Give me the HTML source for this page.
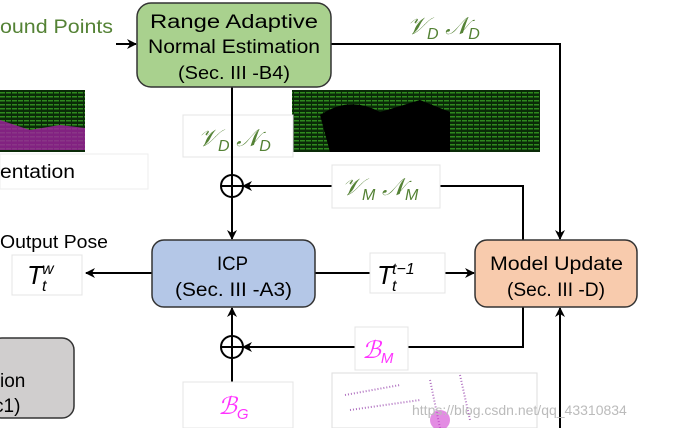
<!DOCTYPE html>
<html><head><style>
body{margin:0;background:#fff;width:673px;height:428px;overflow:hidden}
svg{display:block}
text{font-family:"Liberation Sans",sans-serif}
.m{font-family:"Liberation Serif",serif;font-style:italic}
</style></head><body>
<svg width="673" height="428" viewBox="0 0 673 428" xmlns="http://www.w3.org/2000/svg">
<defs>
<marker id="a" markerWidth="10" markerHeight="10" refX="9" refY="5" orient="auto" markerUnits="userSpaceOnUse">
<path d="M0,0 L10,5 L0,10 L3,5 Z" fill="#000"/></marker>
<pattern id="g" width="6" height="4" patternUnits="userSpaceOnUse"><rect width="6" height="4" fill="#0a2a08"/><rect width="5" height="1.5" fill="#2f8a1e"/></pattern>
</defs>
<rect x="0" y="90" width="85" height="62" fill="url(#g)"/>
<path d="M0,120 L30,130 L60,125 L85,128 L85,150 L0,150Z" fill="#a020a0" opacity="0.8"/>
<rect x="292" y="90" width="248" height="62" fill="url(#g)"/>
<path d="M320,115 Q350,95 380,112 L420,100 L450,112 L450,152 L330,152Z" fill="#000"/>
<rect x="332" y="373" width="205" height="55" fill="#fff" stroke="#ddd"/>
<path d="M345,395 L400,385 M350,410 L420,400 M430,380 L440,428 M460,375 L470,420" stroke="#b070c0" stroke-width="2" stroke-dasharray="1 2"/>
<circle cx="440" cy="420" r="10" fill="#d040d0" opacity="0.6"/>
<rect x="0" y="154" width="148" height="35" fill="#fff" stroke="#eee"/>
<text x="0" y="178" font-size="19" textLength="75" lengthAdjust="spacingAndGlyphs">entation</text>
<rect x="183" y="115" width="110" height="42" fill="#fff" stroke="#e4e4e4"/>
<g stroke="#000" stroke-width="2" fill="none">
<line x1="116" y1="44" x2="136" y2="44" marker-end="url(#a)"/>
<polyline points="331,44 560,44 560,239" marker-end="url(#a)"/>
<line x1="232" y1="87" x2="232" y2="239" marker-end="url(#a)"/>
<polyline points="523,240 523,186 243,186" marker-end="url(#a)"/>
<line x1="152" y1="273" x2="86" y2="273" marker-end="url(#a)"/>
<line x1="315" y1="273" x2="474" y2="273" marker-end="url(#a)"/>
<line x1="560" y1="428" x2="560" y2="308" marker-end="url(#a)"/>
<polyline points="523,307 523,347 243,347" marker-end="url(#a)"/>
<line x1="232" y1="428" x2="232" y2="308" marker-end="url(#a)"/>
<circle cx="232" cy="186" r="11" fill="#fff"/>
<line x1="221" y1="186" x2="243" y2="186"/><line x1="232" y1="175" x2="232" y2="197"/>
<circle cx="232" cy="347" r="11" fill="#fff"/>
<line x1="221" y1="347" x2="243" y2="347"/><line x1="232" y1="336" x2="232" y2="358"/>
</g>
<rect x="332" y="165" width="108" height="43" fill="#fff" stroke="#e4e4e4"/>
<rect x="370" y="253" width="75" height="40" fill="#fff" stroke="#e4e4e4"/>
<rect x="12" y="255" width="70" height="40" fill="#fff" stroke="#e4e4e4"/>
<rect x="355" y="327" width="53" height="43" fill="#fff" stroke="#e4e4e4"/>
<rect x="183" y="382" width="110" height="46" fill="#fff" stroke="#e4e4e4"/>
<rect x="137" y="3" width="194" height="84" rx="14" fill="#a9d18e" stroke="#333" stroke-width="1.5"/>
<text x="150" y="28" font-size="19" textLength="168" lengthAdjust="spacingAndGlyphs">Range Adaptive</text>
<text x="148" y="53" font-size="19" textLength="172" lengthAdjust="spacingAndGlyphs">Normal Estimation</text>
<text x="178" y="79" font-size="18" textLength="112" lengthAdjust="spacingAndGlyphs">(Sec. III -B4)</text>
<rect x="152" y="240" width="163" height="67" rx="12" fill="#b4c7e7" stroke="#333" stroke-width="1.5"/>
<text x="217" y="270" font-size="19" textLength="31" lengthAdjust="spacingAndGlyphs">ICP</text>
<text x="175" y="296" font-size="19" textLength="117" lengthAdjust="spacingAndGlyphs">(Sec. III -A3)</text>
<rect x="475" y="240" width="162" height="67" rx="12" fill="#f8cbad" stroke="#333" stroke-width="1.5"/>
<text x="490" y="270" font-size="19" textLength="133" lengthAdjust="spacingAndGlyphs">Model Update</text>
<text x="507" y="296" font-size="19" textLength="98" lengthAdjust="spacingAndGlyphs">(Sec. III -D)</text>
<rect x="-10" y="338" width="84" height="80" rx="12" fill="#d0cece" stroke="#333" stroke-width="1.5"/>
<text x="0" y="387" font-size="19">ion</text>
<text x="-6" y="412" font-size="19">c1)</text>
<text x="0" y="33" font-size="19" fill="#548235" textLength="113" lengthAdjust="spacingAndGlyphs">ound Points</text>
<text x="0" y="248" font-size="18" textLength="108" lengthAdjust="spacingAndGlyphs">Output Pose</text>
<g class="m" fill="#548235">
<text x="407" y="34" font-size="24">𝒱<tspan font-size="16" dy="5">D</tspan><tspan dy="-5"> 𝒩</tspan><tspan font-size="16" dy="5">D</tspan></text>
<text x="198" y="146" font-size="24">𝒱<tspan font-size="16" dy="5">D</tspan><tspan dy="-5"> 𝒩</tspan><tspan font-size="16" dy="5">D</tspan></text>
<text x="342" y="195" font-size="24">𝒱<tspan font-size="16" dy="5">M</tspan><tspan dy="-5"> 𝒩</tspan><tspan font-size="16" dy="5">M</tspan></text>
</g>
<g class="m" fill="#000">
<text x="377" y="284" font-size="26">T</text>
<text x="392" y="274" font-size="16">t−1</text>
<text x="392" y="291" font-size="16">t</text>
<text x="27" y="284" font-size="26">T</text>
<text x="42" y="274" font-size="16">w</text>
<text x="42" y="291" font-size="16">t</text>
</g>
<g class="m" fill="#ff33ff">
<text x="362" y="358" font-size="24">ℬ<tspan font-size="15" dy="5">M</tspan></text>
<text x="218" y="414" font-size="24">ℬ<tspan font-size="15" dy="5">G</tspan></text>
</g>
<text x="412" y="415" font-size="14" fill="#bbb">https://blog.csdn.net/qq_43310834</text>
</svg>
</body></html>
